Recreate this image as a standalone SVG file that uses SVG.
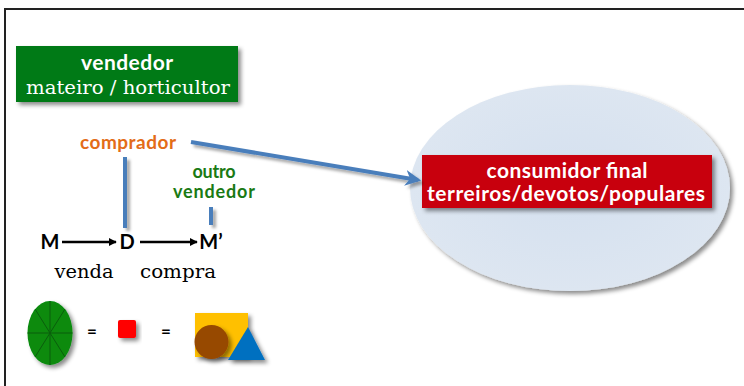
<svg xmlns="http://www.w3.org/2000/svg" width="744" height="386" viewBox="0 0 744 386">
<defs>
<filter id="sh" x="-20%" y="-20%" width="150%" height="160%">
<feDropShadow dx="3" dy="3" stdDeviation="2" flood-color="#000" flood-opacity="0.45"/>
</filter>
<filter id="shu" filterUnits="userSpaceOnUse" x="0" y="0" width="744" height="386">
<feDropShadow dx="3" dy="3" stdDeviation="1.5" flood-color="#000" flood-opacity="0.35"/>
</filter>
<radialGradient id="eg" cx="50%" cy="50%" r="50%">
<stop offset="0" stop-color="#d4e0ef"/>
<stop offset="1" stop-color="#dde6f1"/>
</radialGradient>
<marker id="ah" viewBox="0 0 10 10" refX="9" refY="5" markerWidth="8" markerHeight="8" orient="auto" markerUnits="userSpaceOnUse">
<path d="M0,0 L10,5 L0,10 z" fill="#000"/>
</marker>
<marker id="bh" viewBox="0 0 10 10" refX="8" refY="5" markerWidth="4" markerHeight="4" orient="auto">
<path d="M0,0 L10,5 L0,10 L3,5 z" fill="#4a7ebb"/>
</marker>
</defs>
<style>
.sans{font-family:Lato,"Liberation Sans",sans-serif;font-weight:bold}
.serif{font-family:"DejaVu Serif","Liberation Serif",serif}
.w{fill:#fff}
.blue{stroke:#4a7ebb;stroke-width:4;fill:none}
.blk{stroke:#000;stroke-width:2.5;fill:none}
</style>
<rect width="744" height="386" fill="#fff"/>
<path d="M5,386 V9 H744" fill="none" stroke="#222" stroke-width="2"/>

<g id="vendedor">
<rect x="16" y="46" width="222" height="56" fill="#007a12" filter="url(#sh)"/>
<text x="127" y="70" class="sans w" font-size="21" text-anchor="middle" textLength="92">vendedor</text>
<text x="128" y="94" class="serif w" font-size="19" text-anchor="middle" textLength="204" lengthAdjust="spacingAndGlyphs">mateiro / horticultor</text>
</g>

<g id="consumidor">
<ellipse cx="570" cy="188" rx="160" ry="103" fill="url(#eg)" filter="url(#sh)"/>
<rect x="422" y="155" width="290" height="53" fill="#c8000b" filter="url(#sh)"/>
<text x="567" y="178" class="sans w" font-size="21" text-anchor="middle" textLength="161">consumidor final</text>
<text x="566" y="201" class="sans w" font-size="21" text-anchor="middle" textLength="278">terreiros/devotos/populares</text>
</g>

<g id="comprador">
<text x="128" y="149" class="sans" font-size="19" fill="#e36c18" text-anchor="middle" textLength="96">comprador</text>
</g>
<g id="outro-vendedor">
<text x="214" y="178" class="sans" font-size="18" fill="#1a7a14" text-anchor="middle" textLength="43">outro</text>
<text x="214" y="198" class="sans" font-size="18" fill="#1a7a14" text-anchor="middle" textLength="82">vendedor</text>
</g>

<g id="M"><text x="50" y="249" class="sans" font-size="20" text-anchor="middle">M</text></g>
<g id="D"><text x="127" y="249" class="sans" font-size="20" text-anchor="middle">D</text></g>
<g id="M2"><text x="211" y="249" class="sans" font-size="20" text-anchor="middle">M’</text></g>

<g id="labels">
<text x="84" y="278" class="serif" font-size="19" text-anchor="middle" textLength="59" lengthAdjust="spacingAndGlyphs">venda</text>
<text x="178" y="278" class="serif" font-size="19" text-anchor="middle" textLength="76" lengthAdjust="spacingAndGlyphs">compra</text>
</g>

<g id="connectors">
<line x1="62" y1="242" x2="116" y2="242" class="blk" marker-end="url(#ah)"/>
<line x1="140" y1="242" x2="197" y2="242" class="blk" marker-end="url(#ah)"/>
<line x1="125" y1="157" x2="125" y2="228" class="blue" filter="url(#shu)"/>
<line x1="211" y1="207" x2="211" y2="225" class="blue" filter="url(#shu)"/>
<line x1="191" y1="142" x2="418" y2="180" class="blue" marker-end="url(#bh)" filter="url(#shu)"/>
</g>

<g id="legend">
<g filter="url(#sh)">
<ellipse cx="50" cy="333" rx="22.5" ry="32" fill="#078a0c"/>
</g>
<g stroke="#0a5d0c" stroke-width="1">
<line x1="27.5" y1="333" x2="72.5" y2="333"/>
<line x1="50" y1="301" x2="50" y2="365"/>
<line x1="35" y1="309" x2="65" y2="357"/>
<line x1="65" y1="309" x2="35" y2="357"/>
</g>
<text x="92" y="337" class="sans" font-size="17" text-anchor="middle">=</text>
<rect x="118" y="320" width="18" height="18" rx="2" fill="#ff0000" filter="url(#sh)"/>
<text x="166" y="337" class="sans" font-size="17" text-anchor="middle">=</text>
<rect x="195" y="313" width="53" height="44" fill="#ffc000" filter="url(#sh)"/>
<circle cx="211.5" cy="342" r="17" fill="#974806" filter="url(#sh)"/>
<polygon points="248,327 228,360 265,360" fill="#0070c0" filter="url(#sh)"/>
</g>
</svg>
